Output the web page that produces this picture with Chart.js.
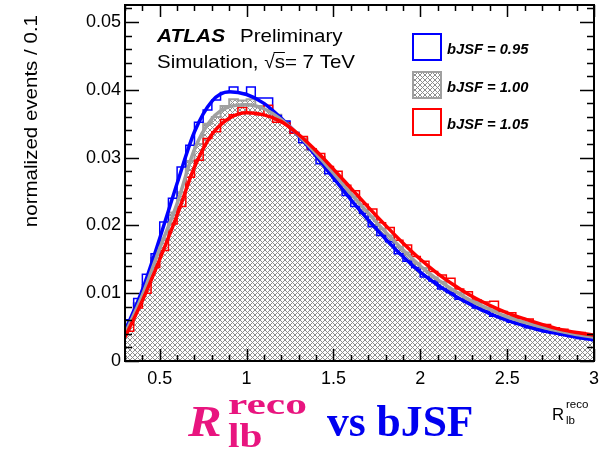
<!DOCTYPE html>
<html>
<head>
<meta charset="utf-8">
<script src="https://cdn.jsdelivr.net/npm/chart.js@4/dist/chart.umd.min.js"></script>
<style>
  html, body { margin: 0; padding: 0; background: #fff; }
  canvas { display: block; }
</style>
</head>
<body>
<canvas id="rlb" width="614" height="451"></canvas>
<script>
// histogram bin edges in R_lb^reco (0.05 wide)
const binEdges = [0.30, 0.35, 0.40, 0.45, 0.50, 0.55, 0.60, 0.65, 0.70, 0.75,
  0.80, 0.85, 0.90, 0.95, 1.00, 1.05, 1.10, 1.15, 1.20, 1.25,
  1.30, 1.35, 1.40, 1.45, 1.50, 1.55, 1.60, 1.65, 1.70, 1.75,
  1.80, 1.85, 1.90, 1.95, 2.00, 2.05, 2.10, 2.15, 2.20, 2.25,
  2.30, 2.35, 2.40, 2.45, 2.50, 2.55, 2.60, 2.65, 2.70, 2.75,
  2.80, 2.85, 2.90, 2.95, 3.00];

// bin contents, one per bin
const histBlue = [0.0061, 0.0092, 0.0128, 0.0158, 0.0205, 0.0240, 0.0286, 0.0318, 0.0352, 0.0370,
  0.0385, 0.0396, 0.0404, 0.0395, 0.0404, 0.0388, 0.0388, 0.0362, 0.0354, 0.0337,
  0.0322, 0.0312, 0.0291, 0.0276, 0.0265, 0.0244, 0.0228, 0.0218, 0.0198, 0.0185,
  0.0176, 0.0158, 0.0147, 0.0138, 0.0124, 0.0118, 0.0106, 0.0101, 0.0091, 0.0087,
  0.0078, 0.0074, 0.0066, 0.0064, 0.0057, 0.0055, 0.0049, 0.0048, 0.0043, 0.0042,
  0.0038, 0.0036, 0.0033, 0.0033];
const histGray = [0.0055, 0.0085, 0.0112, 0.0152, 0.0180, 0.0219, 0.0249, 0.0295, 0.0320, 0.0350,
  0.0360, 0.0376, 0.0386, 0.0384, 0.0386, 0.0376, 0.0370, 0.0363, 0.0352, 0.0337,
  0.0328, 0.0311, 0.0301, 0.0282, 0.0272, 0.0253, 0.0242, 0.0223, 0.0213, 0.0195,
  0.0185, 0.0168, 0.0160, 0.0144, 0.0137, 0.0123, 0.0117, 0.0105, 0.0101, 0.0090,
  0.0087, 0.0078, 0.0075, 0.0067, 0.0065, 0.0058, 0.0056, 0.0051, 0.0049, 0.0044,
  0.0043, 0.0039, 0.0038, 0.0035];
const histRed = [0.0044, 0.0078, 0.0100, 0.0138, 0.0163, 0.0202, 0.0228, 0.0271, 0.0296, 0.0328,
  0.0338, 0.0356, 0.0363, 0.0374, 0.0366, 0.0363, 0.0377, 0.0352, 0.0351, 0.0336,
  0.0331, 0.0313, 0.0306, 0.0287, 0.0280, 0.0259, 0.0251, 0.0231, 0.0224, 0.0204,
  0.0197, 0.0178, 0.0171, 0.0154, 0.0147, 0.0132, 0.0127, 0.0122, 0.0106, 0.0102,
  0.0090, 0.0087, 0.0088, 0.0073, 0.0071, 0.0063, 0.0062, 0.0055, 0.0054, 0.0049,
  0.0047, 0.0043, 0.0042, 0.0039];

// fitted templates, sampled every 0.1
const curveX = [0.3, 0.4, 0.5, 0.6, 0.7, 0.8, 0.9, 1.0, 1.1, 1.2, 1.3, 1.4, 1.5, 1.6,
  1.7, 1.8, 1.9, 2.0, 2.1, 2.2, 2.3, 2.4, 2.5, 2.6, 2.7, 2.8, 2.9, 3.0];
const fitBlue = [0.0044, 0.0105, 0.0181, 0.0262, 0.0338, 0.0383, 0.0397, 0.0393, 0.0380, 0.0358,
  0.0332, 0.0302, 0.0270, 0.0238, 0.0208, 0.0180, 0.0154, 0.0131, 0.0112, 0.0096,
  0.0082, 0.0070, 0.0060, 0.0052, 0.0045, 0.0040, 0.0035, 0.0031];
const fitGray = [0.0040, 0.0097, 0.0166, 0.0232, 0.0312, 0.0357, 0.0375, 0.0378, 0.0372, 0.0356,
  0.0333, 0.0306, 0.0277, 0.0247, 0.0218, 0.0190, 0.0164, 0.0140, 0.0120, 0.0103,
  0.0088, 0.0076, 0.0065, 0.0057, 0.0050, 0.0044, 0.0039, 0.0035];
const fitRed = [0.0035, 0.0089, 0.0150, 0.0215, 0.0286, 0.0334, 0.0358, 0.0366, 0.0363, 0.0353,
  0.0334, 0.0310, 0.0283, 0.0255, 0.0227, 0.0200, 0.0174, 0.0150, 0.0129, 0.0111,
  0.0095, 0.0082, 0.0071, 0.0062, 0.0054, 0.0047, 0.0042, 0.0038];

const legendLabels = ['bJSF = 0.95', 'bJSF = 1.00', 'bJSF = 1.05'];
const xTickValues = [0.5, 1, 1.5, 2, 2.5, 3];
const yTickValues = [0, 0.01, 0.02, 0.03, 0.04, 0.05];

const BLUE = '#0000ff', RED = '#ff0000', GRAY = '#a0a0a0';
const SANS = '"Liberation Sans", Arial, sans-serif';
const SERIF = '"Liberation Serif", "Times New Roman", serif';

const canvas = document.getElementById('rlb');
const mainCtx = canvas.getContext('2d');

// ROOT-like cross hatch
function makeHatch() {
  const c = document.createElement('canvas');
  c.width = 5; c.height = 5;
  const g = c.getContext('2d');
  g.fillStyle = '#fff';
  g.fillRect(0, 0, 5, 5);
  g.fillStyle = '#8e8e8e';
  for (let i = 0; i < 5; i++) {
    g.fillRect(i, i, 1, 1);
    g.fillRect(4 - i, i, 1, 1);
  }
  return mainCtx.createPattern(c, 'repeat');
}
const hatch = makeHatch();

// one point per bin edge, the last edge repeats the last bin
const histPoints = vals => binEdges.map((e, i) => ({ x: e, y: vals[Math.min(i, vals.length - 1)] }));
const curvePoints = vals => curveX.map((x, i) => ({ x: x, y: vals[i] }));

function stretchText(ctx, text, x, y, font, color, sx) {
  ctx.save();
  ctx.font = font;
  ctx.fillStyle = color;
  ctx.translate(x, y);
  ctx.scale(sx, 1);
  ctx.fillText(text, 0, 0);
  const w = ctx.measureText(text).width * sx;
  ctx.restore();
  return w;
}

const rootFrame = {
  id: 'rootFrame',
  afterDatasetsDraw(chart) {
    const { ctx, chartArea: a, scales: { x, y } } = chart;
    ctx.save();
    ctx.strokeStyle = '#000';
    ctx.lineWidth = 2;
    ctx.strokeRect(a.left, a.top, a.right - a.left, a.bottom - a.top);
    ctx.lineWidth = 1.5;
    ctx.beginPath();
    // x ticks every 0.1, major every 0.5
    for (let k = 3; k <= 30; k++) {
      const px = Math.round(x.getPixelForValue(k / 10)) + 0.5;
      const len = k % 5 === 0 ? 12 : 6;
      ctx.moveTo(px, a.bottom); ctx.lineTo(px, a.bottom - len);
      ctx.moveTo(px, a.top); ctx.lineTo(px, a.top + len);
    }
    // y ticks every 0.002, major every 0.01
    for (let k = 0; k <= 26; k++) {
      const py = Math.round(y.getPixelForValue(k * 0.002)) + 0.5;
      const len = k % 5 === 0 ? 14 : 7;
      ctx.moveTo(a.left, py); ctx.lineTo(a.left + len, py);
      ctx.moveTo(a.right, py); ctx.lineTo(a.right - len, py);
    }
    ctx.stroke();
    ctx.restore();
  },
  afterDraw(chart) {
    const { ctx } = chart;
    ctx.save();
    ctx.textBaseline = 'alphabetic';

    // y axis title
    ctx.save();
    ctx.translate(32, 15);
    ctx.rotate(-Math.PI / 2);
    ctx.font = '19px ' + SANS;
    ctx.fillStyle = '#000';
    ctx.textAlign = 'right';
    ctx.textBaseline = 'middle';
    ctx.scale(1.08, 1);
    ctx.fillText('normalized events / 0.1', 0, 0);
    ctx.restore();

    // ATLAS label
    stretchText(ctx, 'ATLAS', 157, 42, 'bold italic 19px ' + SANS, '#000', 1.1);
    stretchText(ctx, 'Preliminary', 240, 42, '19px ' + SANS, '#000', 1.08);
    let cx = 157;
    cx += stretchText(ctx, 'Simulation, ', cx, 68, '19px ' + SANS, '#000', 1.08);
    const rw = stretchText(ctx, '\u221A', cx, 68, '19px ' + SANS, '#000', 1.0);
    const sw = stretchText(ctx, 's', cx + rw, 68, '19px ' + SANS, '#000', 1.08);
    ctx.strokeStyle = '#000';
    ctx.lineWidth = 1;
    ctx.beginPath();
    ctx.moveTo(cx + rw - 1, 52.5); ctx.lineTo(cx + rw + sw, 52.5);
    ctx.stroke();
    stretchText(ctx, '= 7 TeV', cx + rw + sw, 68, '19px ' + SANS, '#000', 1.08);

    // legend
    const boxes = [
      { y: 34, stroke: BLUE, fill: null },
      { y: 72, stroke: GRAY, fill: hatch },
      { y: 109, stroke: RED, fill: null }
    ];
    boxes.forEach((b, i) => {
      if (b.fill) { ctx.fillStyle = b.fill; ctx.fillRect(413, b.y, 28, 26); }
      ctx.strokeStyle = b.stroke;
      ctx.lineWidth = 2;
      ctx.strokeRect(413, b.y, 28, 26);
      stretchText(ctx, legendLabels[i], 447, b.y + 19.5, 'bold italic 14px ' + SANS, '#000', 1.05);
    });

    // x axis title R_lb^reco
    stretchText(ctx, 'R', 552, 420, '16px ' + SANS, '#000', 1.05);
    stretchText(ctx, 'reco', 566, 408, '11px ' + SANS, '#000', 1.05);
    stretchText(ctx, 'lb', 566, 424, '11px ' + SANS, '#000', 1.05);

    // big title
    const PINK = '#e8157f', TBLUE = '#0000f0';
    stretchText(ctx, 'R', 188, 436, 'bold italic 45px ' + SERIF, PINK, 1.12);
    stretchText(ctx, 'reco', 228, 414, 'bold 30px ' + SERIF, PINK, 1.45);
    stretchText(ctx, 'lb', 228, 447, 'bold 33px ' + SERIF, PINK, 1.25);
    stretchText(ctx, 'vs bJSF', 327, 436, 'bold 44px ' + SERIF, TBLUE, 0.99);
    ctx.restore();
  }
};

new Chart(canvas, {
  type: 'line',
  data: {
    datasets: [
      { label: legendLabels[1], data: histPoints(histGray), stepped: 'before', borderColor: GRAY,
        borderWidth: 2, backgroundColor: hatch, fill: 'origin', pointRadius: 0, order: 10 },
      { label: legendLabels[0], data: histPoints(histBlue), stepped: 'before', borderColor: BLUE,
        borderWidth: 1.5, fill: false, pointRadius: 0, order: 9 },
      { label: legendLabels[2], data: histPoints(histRed), stepped: 'before', borderColor: RED,
        borderWidth: 1.5, fill: false, pointRadius: 0, order: 8 },
      { label: 'fit 0.95', data: curvePoints(fitBlue), borderColor: BLUE, borderWidth: 3.5,
        cubicInterpolationMode: 'monotone', fill: false, pointRadius: 0, order: 3 },
      { label: 'fit 1.00', data: curvePoints(fitGray), borderColor: GRAY, borderWidth: 3.5,
        cubicInterpolationMode: 'monotone', fill: false, pointRadius: 0, order: 2 },
      { label: 'fit 1.05', data: curvePoints(fitRed), borderColor: RED, borderWidth: 3.5,
        cubicInterpolationMode: 'monotone', fill: false, pointRadius: 0, order: 1 }
    ]
  },
  options: {
    responsive: false,
    animation: false,
    devicePixelRatio: 1,
    layout: { padding: { left: 0, right: 20, top: 5, bottom: 0 }, autoPadding: false },
    plugins: { legend: { display: false }, tooltip: { enabled: false } },
    scales: {
      x: {
        type: 'linear', min: 0.3, max: 3.0,
        afterBuildTicks: s => { s.ticks = xTickValues.map(v => ({ value: v })); },
        afterFit: s => { s.height = 90; s.paddingLeft = 0; s.paddingRight = 0; },
        grid: { display: false, drawTicks: false },
        border: { display: false },
        ticks: { color: '#000', font: { family: SANS, size: 18 }, padding: 7,
          maxRotation: 0, autoSkip: false, callback: v => String(v) }
      },
      y: {
        type: 'linear', min: 0, max: 0.0525,
        afterBuildTicks: s => { s.ticks = yTickValues.map(v => ({ value: v })); },
        afterFit: s => { s.width = 125; s.paddingTop = 0; s.paddingBottom = 0; },
        grid: { display: false, drawTicks: false },
        border: { display: false },
        ticks: { color: '#000', font: { family: SANS, size: 18 }, padding: 4,
          autoSkip: false, callback: v => (v === 0 ? '0' : v.toFixed(2)) }
      }
    }
  },
  plugins: [rootFrame]
});
</script>
</body>
</html>
